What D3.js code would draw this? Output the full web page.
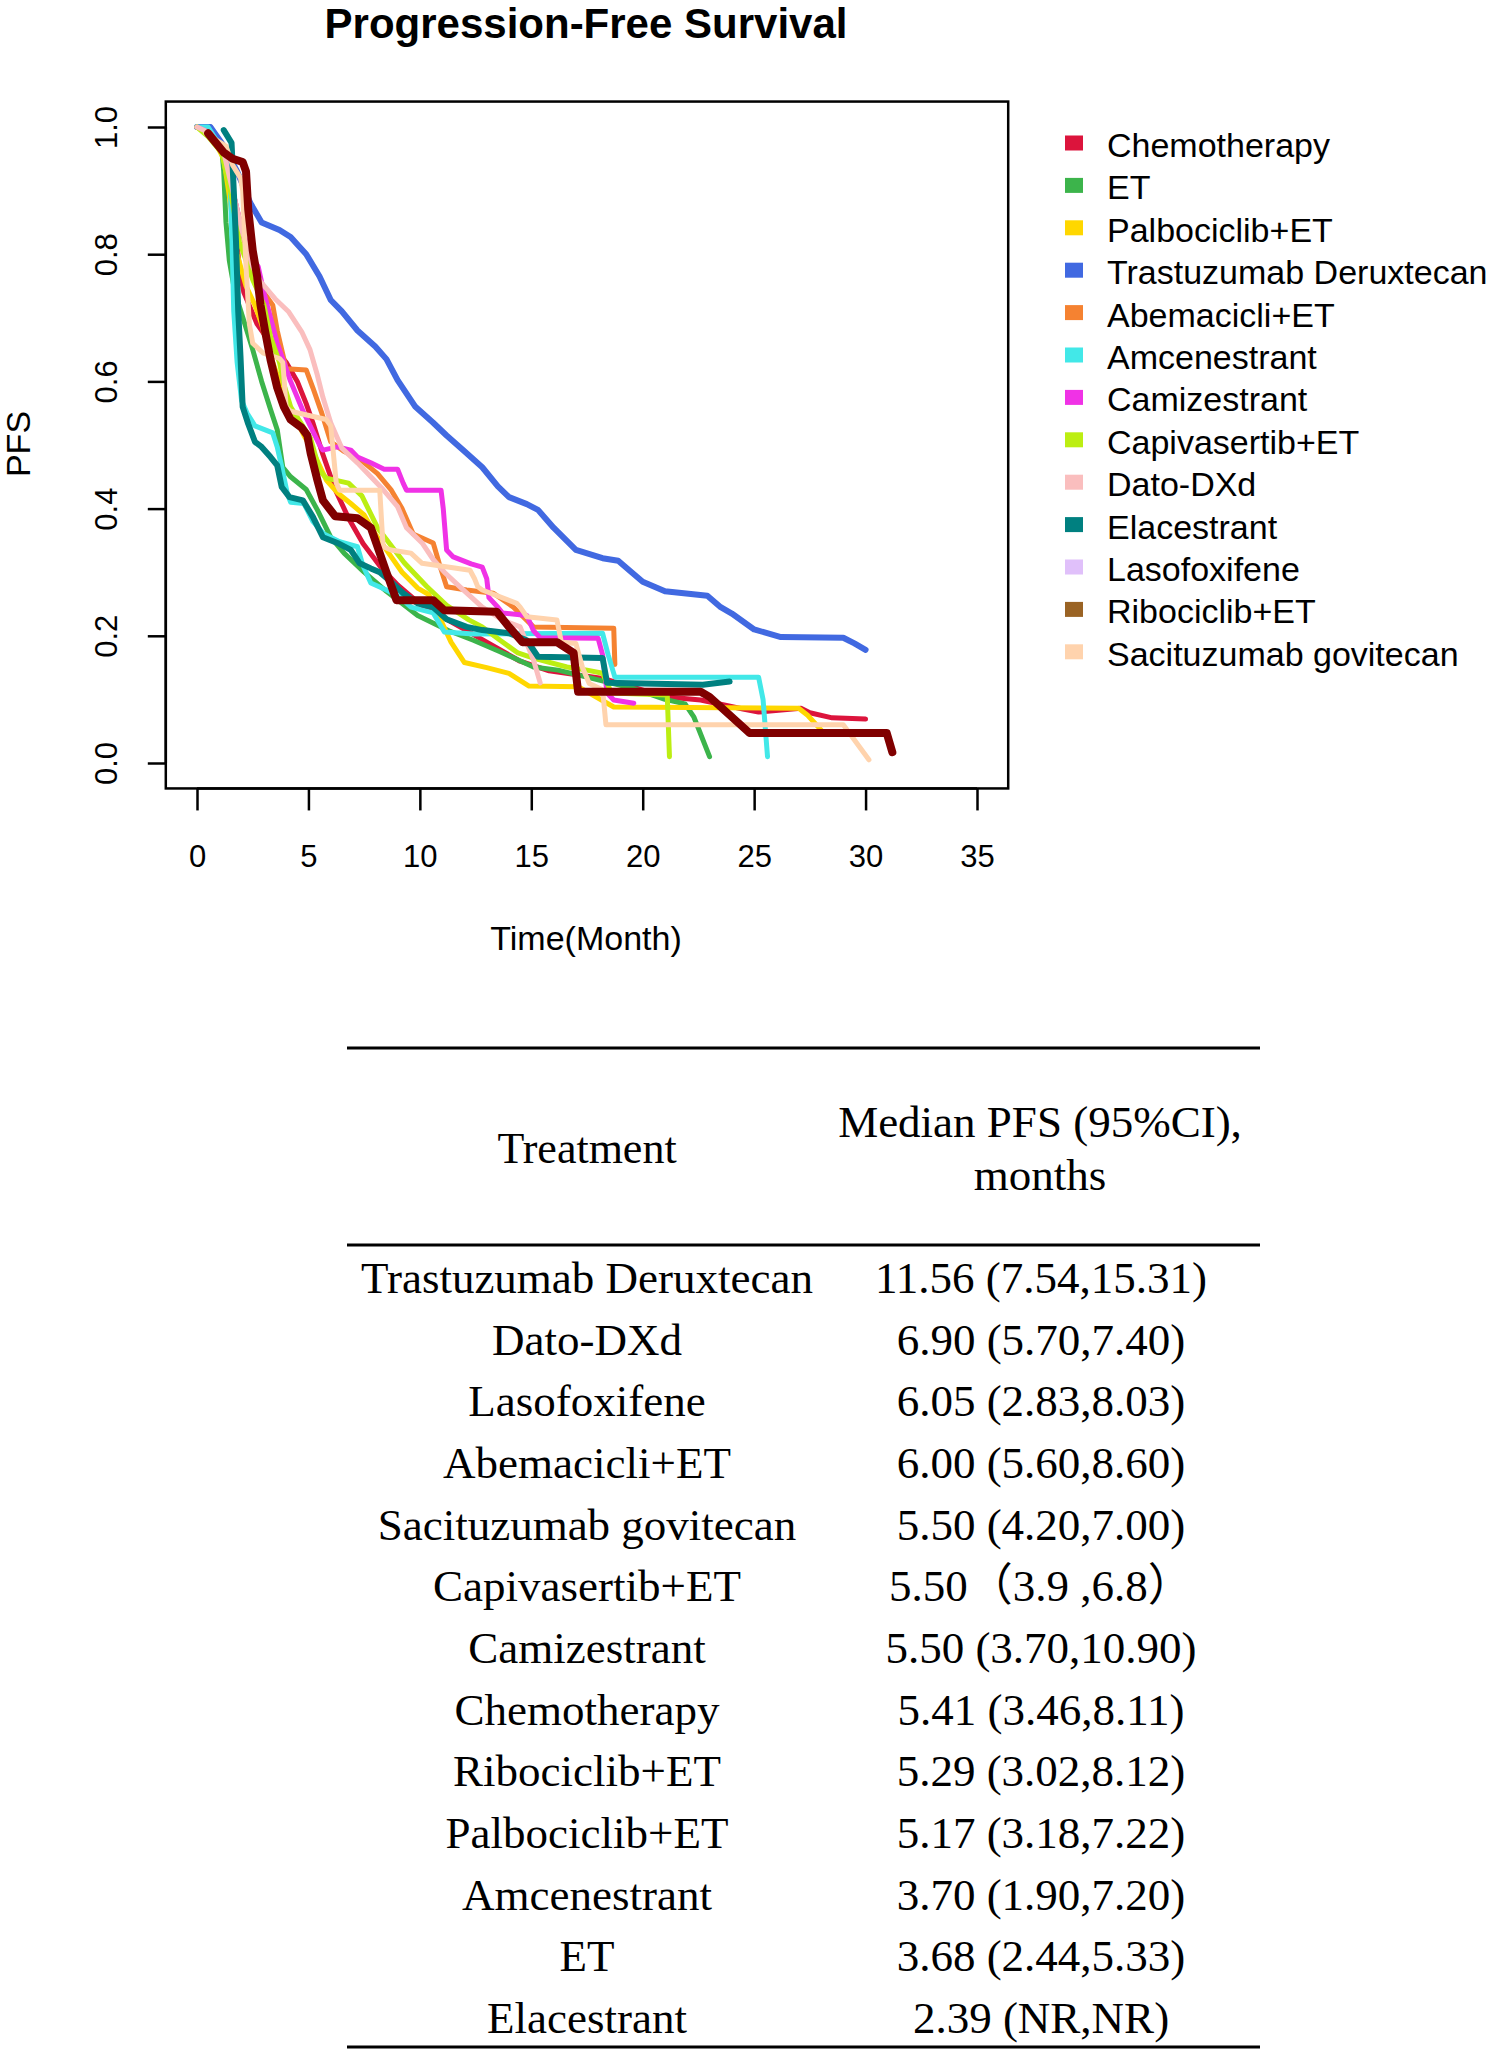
<!DOCTYPE html>
<html><head><meta charset="utf-8">
<script src="https://cdn.jsdelivr.net/npm/d3@7"></script>
<style>body{margin:0;background:#fff}svg{display:block}</style>
</head><body>
<script>
// ---------- DATA ----------
const legendNames = ["Chemotherapy","ET","Palbociclib+ET","Trastuzumab Deruxtecan","Abemacicli+ET","Amcenestrant","Camizestrant","Capivasertib+ET","Dato-DXd","Elacestrant","Lasofoxifene","Ribociclib+ET","Sacituzumab govitecan"];
const legendColors = ["#dc143c","#3cb44b","#ffd700","#4169e1","#f58231","#42e8e8","#f032e6","#bcee12","#fabebe","#008080","#e0c0fa","#9a6324","#ffd3ad"];

const xTicks = [0,5,10,15,20,25,30,35];
const yTicks = [0,0.2,0.4,0.6,0.8,1.0];

// Kaplan-Meier curves: [month, PFS]
const chemotherapyCurve = [[0,1],[0.6,0.99],[1.2,0.96],[1.6,0.88],[1.9,0.78],[2.1,0.74],[2.7,0.69],[3.3,0.66],[4.0,0.63],[4.5,0.60],[4.9,0.565],[5.2,0.535],[5.6,0.49],[6.2,0.43],[6.8,0.385],[7.45,0.345],[8.2,0.31],[9.0,0.28],[10.0,0.25],[11.0,0.23],[11.8,0.214],[13.0,0.19],[14.5,0.16],[15.8,0.145],[18.2,0.133],[19.5,0.12],[21.0,0.104],[22.6,0.099],[24.5,0.085],[25.2,0.08],[27.1,0.086],[27.5,0.079],[28.5,0.071],[30.0,0.069]];
const etCurve = [[0,1],[0.6,1.0],[1.1,0.97],[1.2,0.93],[1.3,0.85],[1.45,0.79],[1.7,0.74],[2.15,0.69],[2.5,0.65],[2.9,0.6],[3.3,0.556],[3.6,0.524],[3.85,0.465],[4.2,0.45],[4.9,0.43],[5.4,0.398],[6.0,0.355],[6.6,0.33],[7.5,0.3],[8.5,0.27],[9.9,0.232],[11.3,0.208],[12.4,0.193],[13.6,0.175],[15.1,0.151],[16.2,0.146],[17.5,0.135],[19.5,0.118],[21.0,0.10],[21.9,0.093],[22.3,0.072],[23.0,0.01]];
const palbociclibCurve = [[0,1],[0.6,0.99],[1.2,0.95],[1.5,0.88],[1.8,0.8],[2.2,0.75],[2.6,0.72],[2.9,0.69],[3.3,0.64],[3.8,0.59],[4.3,0.55],[4.8,0.515],[5.2,0.49],[5.8,0.445],[6.3,0.425],[6.9,0.408],[7.5,0.39],[8.0,0.36],[8.6,0.33],[9.2,0.30],[9.9,0.275],[10.4,0.265],[11.0,0.22],[11.4,0.19],[12.0,0.158],[13.0,0.15],[14.0,0.141],[14.9,0.121],[17.1,0.12],[17.6,0.11],[18.7,0.088],[27.0,0.086],[27.4,0.075],[28.0,0.052]];
const trastuzumabCurve = [[0,1],[0.6,1.0],[1.2,0.97],[1.8,0.93],[2.4,0.88],[2.9,0.85],[3.7,0.838],[4.2,0.827],[4.9,0.80],[5.5,0.765],[6.0,0.728],[6.5,0.71],[7.2,0.68],[8.0,0.655],[8.5,0.635],[9.0,0.602],[9.8,0.56],[10.6,0.535],[11.2,0.515],[12.0,0.49],[12.8,0.465],[13.5,0.435],[14.0,0.418],[14.8,0.407],[15.3,0.398],[16.0,0.37],[17.0,0.335],[18.2,0.322],[18.9,0.318],[19.5,0.30],[20.0,0.285],[21.0,0.27],[22.9,0.263],[23.5,0.245],[24.0,0.235],[25.0,0.21],[26.2,0.198],[29.0,0.197],[29.5,0.188],[30.0,0.178]];
const abemaciclibCurve = [[0,1],[0.6,0.99],[1.2,0.96],[1.6,0.9],[2.0,0.84],[2.4,0.78],[3.0,0.74],[3.4,0.72],[3.6,0.68],[4.0,0.62],[4.9,0.618],[5.2,0.59],[5.6,0.55],[6.0,0.505],[6.6,0.49],[7.4,0.475],[8.1,0.455],[8.7,0.43],[9.2,0.40],[9.7,0.36],[10.6,0.346],[10.9,0.31],[11.2,0.277],[12.1,0.272],[13.3,0.267],[14.2,0.245],[15.1,0.214],[18.7,0.212],[18.75,0.155]];
const amcenestrantCurve = [[0,1],[0.5,1.0],[1.4,0.95],[1.5,0.9],[1.57,0.82],[1.65,0.71],[1.8,0.63],[2.0,0.57],[2.25,0.55],[2.6,0.53],[3.4,0.519],[3.6,0.497],[3.8,0.466],[4.05,0.424],[4.2,0.41],[4.8,0.408],[5.2,0.38],[5.7,0.36],[6.4,0.348],[7.2,0.34],[7.45,0.31],[7.8,0.283],[8.5,0.272],[9.1,0.261],[9.6,0.245],[10.6,0.236],[11.1,0.206],[12.4,0.203],[18.2,0.204],[18.45,0.17],[18.75,0.135],[25.2,0.135],[25.4,0.10],[25.6,0.01]];
const camizestrantCurve = [[0,1],[0.6,0.99],[1.2,0.96],[1.6,0.9],[2.0,0.84],[2.4,0.80],[2.75,0.78],[3.0,0.74],[3.15,0.72],[3.6,0.66],[4.2,0.6],[4.8,0.55],[5.5,0.5],[5.65,0.492],[6.3,0.497],[6.9,0.492],[7.2,0.481],[7.8,0.472],[8.4,0.462],[9.0,0.462],[9.25,0.44],[9.4,0.429],[10.95,0.429],[11.05,0.40],[11.2,0.335],[11.5,0.324],[12.3,0.313],[12.8,0.308],[13.0,0.29],[13.1,0.26],[13.5,0.245],[13.7,0.236],[14.8,0.232],[15.1,0.208],[15.4,0.197],[18.0,0.196],[18.2,0.17],[18.4,0.11],[18.7,0.099],[19.6,0.094]];
const capivasertibCurve = [[0,1],[0.5,0.985],[1.1,0.96],[1.5,0.9],[1.9,0.82],[2.5,0.76],[3.0,0.72],[3.3,0.67],[3.7,0.63],[3.9,0.595],[4.2,0.56],[4.6,0.538],[5.1,0.51],[5.5,0.46],[5.8,0.448],[6.8,0.44],[7.4,0.42],[8.1,0.37],[9.3,0.315],[10.3,0.278],[11.2,0.248],[12.2,0.225],[12.8,0.214],[13.6,0.193],[14.4,0.173],[15.1,0.165],[16.6,0.151],[17.5,0.146],[18.2,0.141],[18.6,0.11],[21.1,0.107],[21.2,0.01]];
const datoCurve = [[0,1],[0.6,0.99],[1.2,0.96],[1.6,0.9],[2.0,0.84],[2.5,0.78],[2.85,0.757],[3.5,0.73],[4.1,0.71],[4.7,0.678],[5.07,0.65],[5.4,0.61],[5.65,0.575],[6.0,0.535],[6.5,0.495],[7.2,0.472],[7.8,0.45],[8.35,0.43],[9.0,0.403],[9.4,0.37],[10.1,0.346],[10.6,0.32],[11.1,0.30],[11.8,0.277],[12.8,0.245],[13.7,0.225],[14.5,0.214],[15.1,0.162],[15.4,0.126]];
const elacestrantCurve = [[1.2,0.995],[1.55,0.975],[1.65,0.9],[1.75,0.82],[1.85,0.71],[1.95,0.64],[2.05,0.56],[2.3,0.533],[2.6,0.505],[2.9,0.497],[3.3,0.481],[3.6,0.468],[3.8,0.434],[4.15,0.418],[4.75,0.413],[5.2,0.387],[5.65,0.355],[6.3,0.346],[6.9,0.335],[7.3,0.314],[7.8,0.306],[8.2,0.30],[8.7,0.285],[9.25,0.267],[9.9,0.251],[10.6,0.245],[11.2,0.226],[12.1,0.214],[12.8,0.209],[14.0,0.204],[14.8,0.193],[15.3,0.167],[18.2,0.165],[18.4,0.126],[22.7,0.123],[23.9,0.128]];
const ribociclibCurve = [[0.5,0.99],[1.2,0.96],[1.6,0.95],[2.05,0.945],[2.2,0.93],[2.3,0.87],[2.5,0.806],[2.7,0.765],[2.85,0.72],[3.05,0.68],[3.3,0.634],[3.6,0.59],[3.9,0.56],[4.2,0.54],[4.7,0.527],[4.95,0.515],[5.1,0.487],[5.4,0.445],[5.65,0.413],[6.2,0.388],[7.2,0.385],[7.8,0.37],[8.1,0.34],[8.5,0.30],[8.95,0.256],[10.6,0.256],[11.1,0.24],[13.45,0.238],[14.0,0.214],[14.6,0.19],[16.15,0.19],[16.9,0.173],[17.1,0.112],[22.6,0.112],[23.0,0.104],[24.8,0.047],[30.95,0.047],[31.2,0.017]];
const sacituzumabCurve = [[0.4,0.99],[1.3,0.97],[1.6,0.94],[1.95,0.92],[2.05,0.9],[2.2,0.78],[2.35,0.69],[2.5,0.66],[2.95,0.645],[3.7,0.636],[3.85,0.63],[4.0,0.56],[4.2,0.553],[5.8,0.54],[6.0,0.53],[6.25,0.44],[6.4,0.429],[8.2,0.429],[8.35,0.34],[8.7,0.335],[9.6,0.33],[10.1,0.314],[12.25,0.303],[12.45,0.29],[12.6,0.277],[12.8,0.272],[14.35,0.251],[14.5,0.245],[14.8,0.23],[16.15,0.225],[16.35,0.19],[17.0,0.188],[17.3,0.15],[17.6,0.125],[18.2,0.115],[18.35,0.06],[29.0,0.06],[30.15,0.005]];

// table
const tableTreatments = ["Trastuzumab Deruxtecan","Dato-DXd","Lasofoxifene","Abemacicli+ET","Sacituzumab govitecan","Capivasertib+ET","Camizestrant","Chemotherapy","Ribociclib+ET","Palbociclib+ET","Amcenestrant","ET","Elacestrant"];
const tableMedians = ["11.56 (7.54,15.31)","6.90 (5.70,7.40)","6.05 (2.83,8.03)","6.00 (5.60,8.60)","5.50 (4.20,7.00)","5.50（3.9 ,6.8）","5.50 (3.70,10.90)","5.41 (3.46,8.11)","5.29 (3.02,8.12)","5.17 (3.18,7.22)","3.70 (1.90,7.20)","3.68 (2.44,5.33)","2.39 (NR,NR)"];

// drawing order (Ribociclib drawn last, in dark red as in the figure)
const series = [
  {name:"Chemotherapy", data:chemotherapyCurve, color:"#dc143c", w:5},
  {name:"ET", data:etCurve, color:"#3cb44b", w:5},
  {name:"Palbociclib+ET", data:palbociclibCurve, color:"#ffd700", w:5},
  {name:"Trastuzumab Deruxtecan", data:trastuzumabCurve, color:"#4169e1", w:6},
  {name:"Abemacicli+ET", data:abemaciclibCurve, color:"#f58231", w:5},
  {name:"Amcenestrant", data:amcenestrantCurve, color:"#42e8e8", w:5},
  {name:"Camizestrant", data:camizestrantCurve, color:"#f032e6", w:5},
  {name:"Capivasertib+ET", data:capivasertibCurve, color:"#bcee12", w:5},
  {name:"Dato-DXd", data:datoCurve, color:"#fabebe", w:5},
  {name:"Elacestrant", data:elacestrantCurve, color:"#008080", w:6},
  {name:"Sacituzumab govitecan", data:sacituzumabCurve, color:"#ffd3ad", w:5},
  {name:"Ribociclib+ET", data:ribociclibCurve, color:"#800000", w:8}
];

// ---------- DRAW ----------
const W=1489, H=2053;
const svg = d3.select("body").append("svg").attr("width",W).attr("height",H)
  .style("background","#fff");
const sans = "'Liberation Sans', Arial, sans-serif";
const serif = "'Liberation Serif', 'Times New Roman', serif";

const x = d3.scaleLinear().domain([0,35]).range([197,977]);
const y = d3.scaleLinear().domain([0,1]).range([763,127]);

// title
svg.append("text").attr("x",586).attr("y",38).attr("text-anchor","middle")
  .attr("font-family",sans).attr("font-weight","bold").attr("font-size",42)
  .text("Progression-Free Survival");

// curves
const line = d3.line().x(d=>x(d[0])).y(d=>y(d[1])).curve(d3.curveLinear);
const gCurves = svg.append("g");
series.forEach(s=>{
  gCurves.append("path").attr("d",line(s.data)).attr("fill","none")
    .attr("stroke",s.color).attr("stroke-width",s.w)
    .attr("stroke-linejoin","round").attr("stroke-linecap","round");
});

// box
svg.append("rect").attr("x",x(-1.4)).attr("y",y(1.04))
  .attr("width",x(36.4)-x(-1.4)).attr("height",y(-0.04)-y(1.04))
  .attr("fill","none").attr("stroke","#000").attr("stroke-width",2.5);

// x axis
const gx = svg.append("g").attr("transform",`translate(0,${y(-0.04)})`)
  .call(d3.axisBottom(x).tickValues(xTicks).tickSize(22).tickPadding(35).tickFormat(d3.format("d")));
gx.select(".domain").attr("stroke-width",2.5).attr("d",`M${x(0)},0H${x(35)}`);
gx.selectAll(".tick line").attr("stroke-width",2.5);
gx.selectAll("text").attr("font-family",sans).attr("font-size",31).attr("fill","#000");

// y axis
const gy = svg.append("g").attr("transform",`translate(${x(-1.4)},0)`)
  .call(d3.axisLeft(y).tickValues(yTicks).tickSize(18).tickFormat(d3.format(".1f")));
gy.select(".domain").attr("stroke-width",2.5).attr("d",`M0,${y(0)}V${y(1)}`);
gy.selectAll(".tick line").attr("stroke-width",2.5);
gy.selectAll("text").attr("font-family",sans).attr("font-size",31).attr("fill","#000")
  .attr("x",null).attr("dy",null).attr("text-anchor","middle")
  .attr("transform","translate(-49,0) rotate(-90)");

// axis labels
svg.append("text").attr("x",586).attr("y",950).attr("text-anchor","middle")
  .attr("font-family",sans).attr("font-size",34).text("Time(Month)");
svg.append("text").attr("transform","translate(30,444) rotate(-90)").attr("text-anchor","middle")
  .attr("font-family",sans).attr("font-size",34).text("PFS");

// legend
const gl = svg.append("g");
legendNames.forEach((n,i)=>{
  const cy = 143 + i*42.4;
  gl.append("rect").attr("x",1065).attr("y",cy-7.5).attr("width",18).attr("height",15).attr("fill",legendColors[i]);
  gl.append("text").attr("x",1107).attr("y",cy+14).attr("font-family",sans).attr("font-size",34).text(n);
});

// table
const tl = 347, tr = 1260;
[1048,1245,2047].forEach(yy=>{
  svg.append("line").attr("x1",tl).attr("x2",tr).attr("y1",yy).attr("y2",yy)
    .attr("stroke","#000").attr("stroke-width",3);
});
svg.append("text").attr("x",587).attr("y",1163).attr("text-anchor","middle")
  .attr("font-family",serif).attr("font-size",44).text("Treatment");
svg.append("text").attr("x",1040).attr("y",1137).attr("text-anchor","middle")
  .attr("font-family",serif).attr("font-size",45).text("Median PFS (95%CI),");
svg.append("text").attr("x",1040).attr("y",1190).attr("text-anchor","middle")
  .attr("font-family",serif).attr("font-size",45).text("months");
tableTreatments.forEach((t,i)=>{
  const by = 1293 + i*61.66;
  svg.append("text").attr("x",587).attr("y",by).attr("text-anchor","middle")
    .attr("font-family",serif).attr("font-size",45).text(t);
  svg.append("text").attr("x",1041).attr("y",by).attr("text-anchor","middle")
    .attr("font-family",serif + ", 'Noto Sans CJK SC'").attr("font-size",45).text(tableMedians[i]);
});
</script>
</body></html>
